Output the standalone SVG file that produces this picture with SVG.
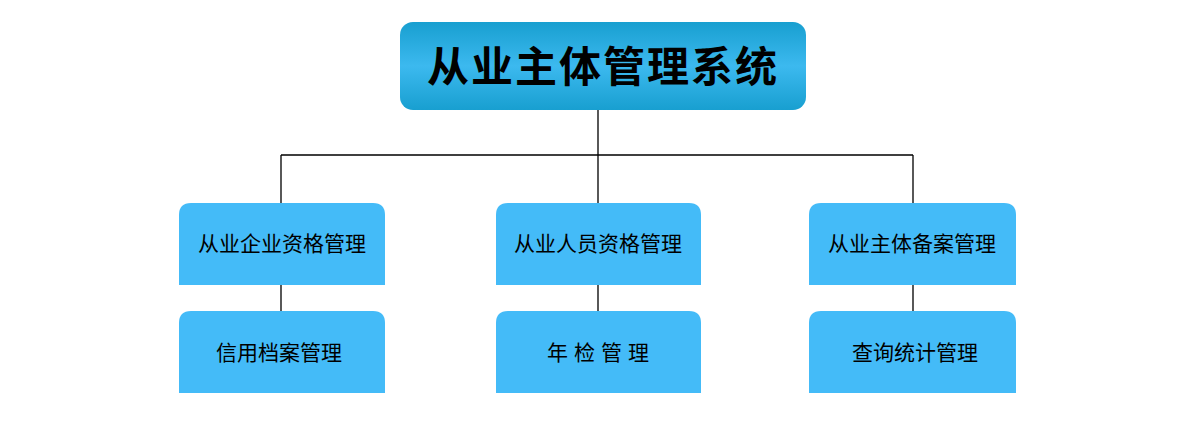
<svg xmlns="http://www.w3.org/2000/svg" width="1190" height="424" viewBox="0 0 1190 424">
<defs>
<linearGradient id="g" x1="0" y1="0" x2="0" y2="1">
<stop offset="0" stop-color="#189fd0"/><stop offset="0.5" stop-color="#3cb9ef"/><stop offset="1" stop-color="#189fd0"/>
</linearGradient>
<style>
.b{fill:#44bbf8}
.t{font-family:"Noto Sans CJK SC",sans-serif;font-size:21px;fill:#000;text-anchor:middle}
.c{stroke:#000;stroke-width:1.3;fill:none}
</style>
</defs>
<g id="connectors">
<path class="c" d="M598 110V155M281 155H913M281 155V203M598 155V203M913 155V203M281 285V311M598 285V311M913 285V311"/>
</g>
<g id="root">
<rect x="400" y="22" width="406" height="88" rx="13" fill="url(#g)"/>
<text x="603" y="82" text-anchor="middle" font-family="'Noto Sans CJK SC',sans-serif" font-size="42" font-weight="bold" letter-spacing="2">从业主体管理系统</text>
</g>
<g id="n1"><path class="b" d="M179 285V215Q179 203 191 203H373Q385 203 385 215V285Z"/><text class="t" x="282" y="251">从业企业资格管理</text></g>
<g id="n2"><path class="b" d="M496 285V215Q496 203 508 203H689Q701 203 701 215V285Z"/><text class="t" x="598" y="251">从业人员资格管理</text></g>
<g id="n3"><path class="b" d="M809 285V215Q809 203 821 203H1004Q1016 203 1016 215V285Z"/><text class="t" x="912" y="251">从业主体备案管理</text></g>
<g id="n4"><path class="b" d="M179 393V323Q179 311 191 311H373Q385 311 385 323V393Z"/><text class="t" x="279" y="360">信用档案管理</text></g>
<g id="n5"><path class="b" d="M496 393V323Q496 311 508 311H689Q701 311 701 323V393Z"/><text class="t" x="601" y="360" letter-spacing="6">年检管理</text></g>
<g id="n6"><path class="b" d="M809 393V323Q809 311 821 311H1004Q1016 311 1016 323V393Z"/><text class="t" x="915" y="360">查询统计管理</text></g>
</svg>
